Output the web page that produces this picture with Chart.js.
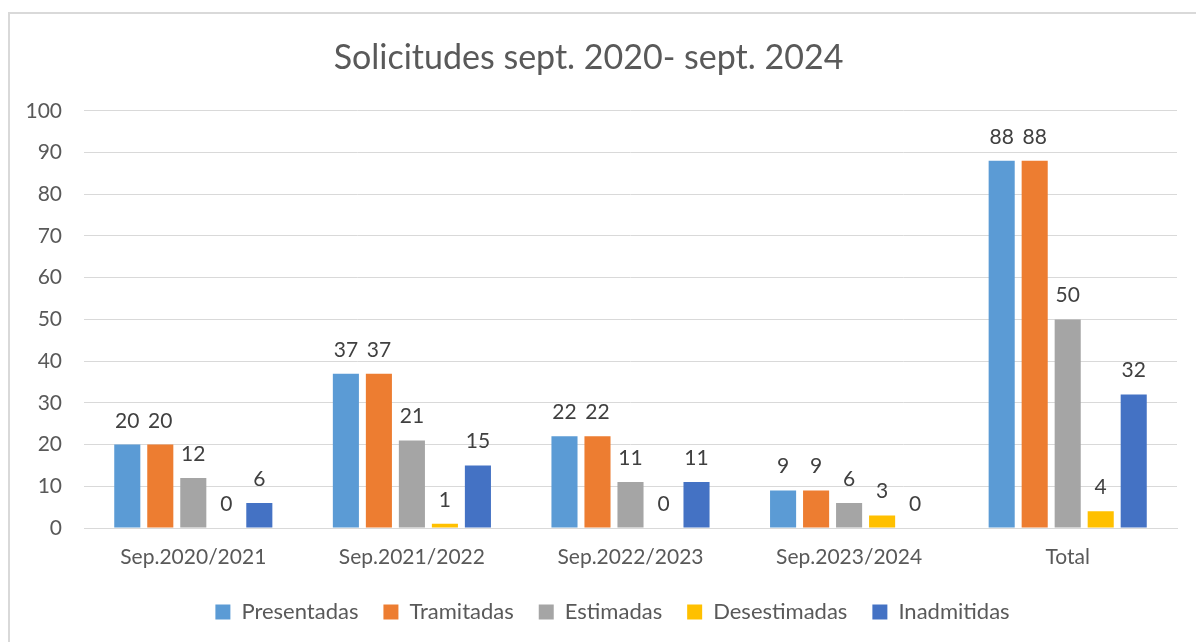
<!DOCTYPE html>
<html lang="es">
  <head>
    <meta charset="UTF-8">
    <title>Solicitudes sept. 2020- sept. 2024</title>
    <script src="https://cdn.jsdelivr.net/npm/chart.js"></script>
    <style>
      html, body { margin: 0; padding: 0; background: #fff; overflow: hidden; }
      #frame {
        position: absolute; left: 8px; top: 12px;
        width: 1300px; height: 800px;
        border: 2px solid #d9d9d9; box-sizing: border-box;
      }
      #wrap { position: absolute; left: 0; top: 0; width: 1196px; height: 642px; }
    </style>
  </head>
  <body>
    <div id="frame"></div>
    <div id="wrap"><canvas id="myChart"></canvas></div>

    <script>
      // chart data
      const categories = ["Sep.2020/2021", "Sep.2021/2022", "Sep.2022/2023", "Sep.2023/2024", "Total"];
      const presentadas = [20, 37, 22, 9, 88];
      const tramitadas = [20, 37, 22, 9, 88];
      const estimadas = [12, 21, 11, 6, 50];
      const desestimadas = [0, 1, 0, 3, 4];
      const inadmitidas = [6, 15, 11, 0, 32];
      const yTicks = [0, 10, 20, 30, 40, 50, 60, 70, 80, 90, 100];

      const seriesNames = ["Presentadas", "Tramitadas", "Estimadas", "Desestimadas", "Inadmitidas"];
      const seriesValues = [presentadas, tramitadas, estimadas, desestimadas, inadmitidas];
      const seriesColors = ["#5b9bd5", "#ed7d31", "#a5a5a5", "#ffc000", "#4472c4"];

      const FONT = "Lato, 'Open Sans', sans-serif";
      const TEXT = "#595959";

      // draws the value over every bar (also the zeros)
      const valueLabels = {
        id: "valueLabels",
        afterDatasetsDraw(chart) {
          const ctx = chart.ctx;
          ctx.save();
          ctx.font = "21px " + FONT;
          ctx.fillStyle = "#404040";
          ctx.textAlign = "center";
          ctx.textBaseline = "alphabetic";
          chart.data.datasets.forEach((ds, i) => {
            const meta = chart.getDatasetMeta(i);
            meta.data.forEach((bar, j) => {
              ctx.fillText(String(ds.data[j]), bar.x, bar.y - 17);
            });
          });
          ctx.restore();
        }
      };

      // legend sits centred under the plot area, not the whole canvas
      const legendShift = {
        id: "legendShift",
        afterLayout(chart) {
          if (chart.legend) {
            chart.legend.left += 24;
            chart.legend.right += 24;
          }
        }
      };

      const ctx = document.getElementById("myChart").getContext("2d");
      const chart = new Chart(ctx, {
        type: "bar",
        data: {
          labels: categories,
          datasets: seriesNames.map((name, i) => ({
            label: name,
            data: seriesValues[i],
            backgroundColor: seriesColors[i],
            borderWidth: 0,
            categoryPercentage: 0.755,
            barPercentage: 0.79
          }))
        },
        options: {
          responsive: true,
          maintainAspectRatio: false,
          animation: false,
          layout: { padding: { left: 0, right: 19, top: 0, bottom: 9 } },
          plugins: {
            tooltip: { enabled: false },
            title: {
              display: true,
              text: "Solicitudes sept. 2020- sept. 2024",
              color: TEXT,
              font: { family: FONT, size: 34, weight: "normal", lineHeight: 1.2 },
              padding: { top: 38, bottom: 32 }
            },
            legend: {
              position: "bottom",
              labels: {
                color: TEXT,
                font: { family: FONT, size: 22 },
                boxWidth: 15,
                boxHeight: 15,
                padding: 25
              }
            }
          },
          scales: {
            x: {
              afterFit(scale) {
                scale.height = 48;
              },
              grid: { display: false, drawTicks: false },
              border: { display: true, color: "#d9d9d9", width: 1 },
              ticks: { color: TEXT, font: { family: FONT, size: 21 }, padding: 17 }
            },
            y: {
              min: 0,
              max: 100,
              afterBuildTicks(scale) {
                scale.ticks = yTicks.map(v => ({ value: v }));
              },
              afterFit(scale) {
                scale.width = 84;
              },
              grid: { color: "#d9d9d9", lineWidth: 1, drawTicks: false },
              border: { display: false },
              ticks: { color: TEXT, font: { family: FONT, size: 21 }, padding: 22 }
            }
          }
        },
        plugins: [valueLabels, legendShift]
      });
    </script>
  </body>
</html>
